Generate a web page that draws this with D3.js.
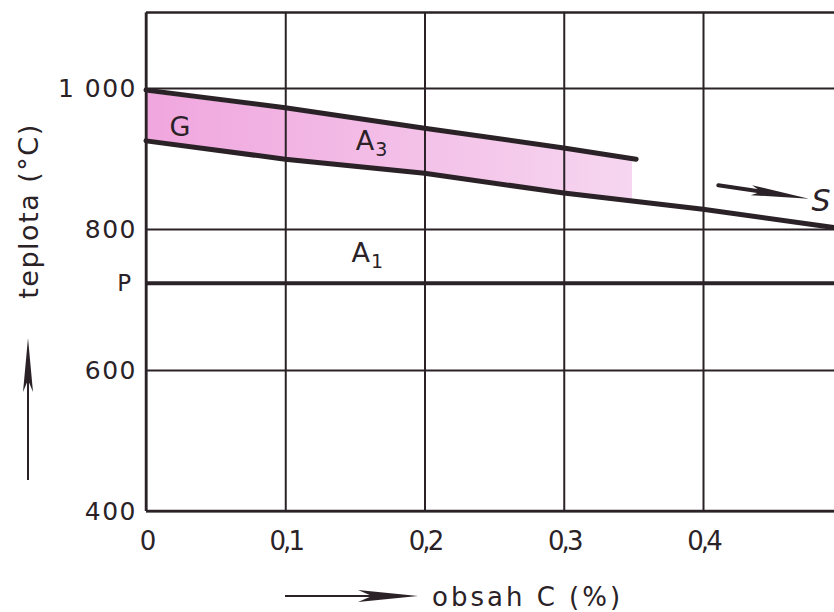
<!DOCTYPE html>
<html>
<head>
<meta charset="utf-8">
<script src="https://cdn.jsdelivr.net/npm/d3@7"></script>
<style>
  html, body { margin: 0; padding: 0; background: #fff; }
  svg { display: block; }
  text { font-family: "DejaVu Sans", sans-serif; fill: #2a2226; }
</style>
</head>
<body>
<svg id="chart" width="834" height="612"></svg>
<script>
// ---- data ----
const xTicks = [0, 0.1, 0.2, 0.3, 0.4];
const xTickLabels = ["0", "0,1", "0,2", "0,3", "0,4"];
const yTicks = [400, 600, 800, 1000];
const yTickLabels = ["400", "600", "800", "1 000"];
const tempP = 723;             // A1 line (P)
const xMax = 0.494;            // visible right edge
const yMax = 1107;             // top frame

// upper A3 line (carbon %, temperature °C)
const upperC = [0, 0.1, 0.2, 0.3, 0.352];
const upperT = [997, 972, 943, 915, 899];
// lower A3 line
const lowerC = [0, 0.1, 0.2, 0.3, 0.4, 0.494];
const lowerT = [925, 899, 879, 851, 828, 802];
// shaded band (between upper and lower line)
const bandC = [0, 0.1, 0.2, 0.3, 0.349];
const bandTop = [994, 969, 940, 912, 901];
const bandBottom = [925, 899, 879, 851, 839];

// labels
const labelText = ["G", "A", "A", "S"];
const labelSub  = ["", "3", "1", ""];
const labelC = [0.0244, 0.162, 0.159, 0.478];
const labelT = [945, 925, 766, 840];
// S arrow
const arrowC = [0.411, 0.476];
const arrowT = [862, 843];

// ---- layout ----
const svg = d3.select("#chart");
const x = d3.scaleLinear().domain([0, 0.4]).range([146, 703]);
const y = d3.scaleLinear().domain([400, 1000]).range([511, 88]);
const ink = "#2a2226";

// gradient for band
const defs = svg.append("defs");
const grad = defs.append("linearGradient").attr("id", "pink")
  .attr("x1", "0%").attr("x2", "100%").attr("y1", "0%").attr("y2", "0%");
grad.append("stop").attr("offset", "0%").attr("stop-color", "#f0a6de");
grad.append("stop").attr("offset", "100%").attr("stop-color", "#f6d6f0");

// band
const bandData = bandC.map((c, i) => ({c, t0: bandBottom[i], t1: bandTop[i]}));
svg.append("path").datum(bandData)
  .attr("d", d3.area().x(d => x(d.c)).y0(d => y(d.t0)).y1(d => y(d.t1)))
  .attr("fill", "url(#pink)");

// grid
const gx = svg.append("g").attr("transform", `translate(0,${y(400)})`)
  .call(d3.axisBottom(x).tickValues(xTicks).tickSize(-(y(400) - y(yMax))).tickFormat((d, i) => xTickLabels[i]));
gx.select(".domain").remove();
gx.selectAll("line").attr("stroke", ink).attr("stroke-width", 2);
gx.selectAll("text").attr("dy", 36).attr("font-size", 26).attr("letter-spacing", -3).attr("fill", ink);

const gy = svg.append("g").attr("transform", `translate(${x(0)},0)`)
  .call(d3.axisLeft(y).tickValues(yTicks).tickSize(-(x(xMax) - x(0) + 5)).tickPadding(9).tickFormat((d, i) => yTickLabels[i]));
gy.select(".domain").remove();
gy.selectAll("line").attr("stroke", ink).attr("stroke-width", 2);
gy.selectAll("text").attr("font-size", 25).attr("letter-spacing", 1.5).attr("fill", ink).attr("dy", "0.35em");

// frame: top, left, bottom
svg.append("line").attr("x1", x(0)).attr("x2", 834).attr("y1", y(yMax)).attr("y2", y(yMax))
  .attr("stroke", ink).attr("stroke-width", 2.5);
svg.append("line").attr("x1", x(0)).attr("x2", x(0)).attr("y1", y(yMax)).attr("y2", y(400))
  .attr("stroke", ink).attr("stroke-width", 2.5);
svg.append("line").attr("x1", x(0)).attr("x2", 834).attr("y1", y(400)).attr("y2", y(400))
  .attr("stroke", ink).attr("stroke-width", 2.5);

// P line
svg.append("line").attr("x1", x(0)).attr("x2", x(xMax) + 5).attr("y1", y(tempP)).attr("y2", y(tempP))
  .attr("stroke", ink).attr("stroke-width", 4);
svg.append("text").attr("x", 131).attr("y", y(tempP)).attr("dy", "0.35em").attr("text-anchor", "end")
  .attr("font-size", 23).text("P");

// A3 lines
const line = d3.line().x(d => x(d[0])).y(d => y(d[1]));
svg.append("path").datum(upperC.map((c, i) => [c, upperT[i]]))
  .attr("d", line).attr("fill", "none").attr("stroke", ink).attr("stroke-width", 5).attr("stroke-linecap", "round");
svg.append("path").datum(lowerC.map((c, i) => [c, lowerT[i]]))
  .attr("d", line).attr("fill", "none").attr("stroke", ink).attr("stroke-width", 5).attr("stroke-linecap", "round");

// S arrow (shaft + spear head)
{
  const p0 = [x(arrowC[0]), y(arrowT[0])], p1 = [x(arrowC[1]), y(arrowT[1])];
  const dx = p1[0] - p0[0], dy = p1[1] - p0[1], L = Math.hypot(dx, dy);
  const u = [dx / L, dy / L], n = [-u[1], u[0]];
  const pt = (a, b) => [p1[0] - a * u[0] + b * n[0], p1[1] - a * u[1] + b * n[1]];
  svg.append("line").attr("x1", p0[0]).attr("y1", p0[1]).attr("x2", pt(30, 0)[0]).attr("y2", pt(30, 0)[1])
    .attr("stroke", ink).attr("stroke-width", 4).attr("stroke-linecap", "round");
  const head = [pt(0, 0), pt(58, -5), pt(48, 0), pt(58, 5)];
  svg.append("path").attr("d", "M" + head.map(p => p.join(",")).join("L") + "Z").attr("fill", ink);
}

// labels
labelText.forEach((t, i) => {
  const isS = t === "S";
  const tx = svg.append("text").attr("x", x(labelC[i])).attr("y", y(labelT[i])).attr("dy", "0.35em")
    .attr("text-anchor", isS ? "start" : "middle").attr("font-size", isS ? 30 : 27)
    .attr("font-style", isS ? "italic" : "normal").text(t);
  if (labelSub[i]) tx.append("tspan").attr("dy", "0.3em").attr("dx", 1).attr("font-size", 19).text(labelSub[i]);
});

// axis titles
svg.append("text").attr("transform", "translate(38,211) rotate(-90)").attr("text-anchor", "middle")
  .attr("font-size", 27).attr("letter-spacing", 1.5).text("teplota (°C)");
svg.append("line").attr("x1", 28).attr("x2", 28).attr("y1", 480).attr("y2", 350)
  .attr("stroke", ink).attr("stroke-width", 2);
svg.append("path").attr("d", "M28,338 L33,392 L28,380 L23,392 Z").attr("fill", ink);

svg.append("text").attr("x", 432).attr("y", 606).attr("font-size", 26).attr("letter-spacing", 3).text("obsah C (%)");
svg.append("line").attr("x1", 285).attr("x2", 405).attr("y1", 596).attr("y2", 596)
  .attr("stroke", ink).attr("stroke-width", 2);
svg.append("path").attr("d", "M418,596 L358,590 L372,596 L358,602 Z").attr("fill", ink);
</script>
</body>
</html>
